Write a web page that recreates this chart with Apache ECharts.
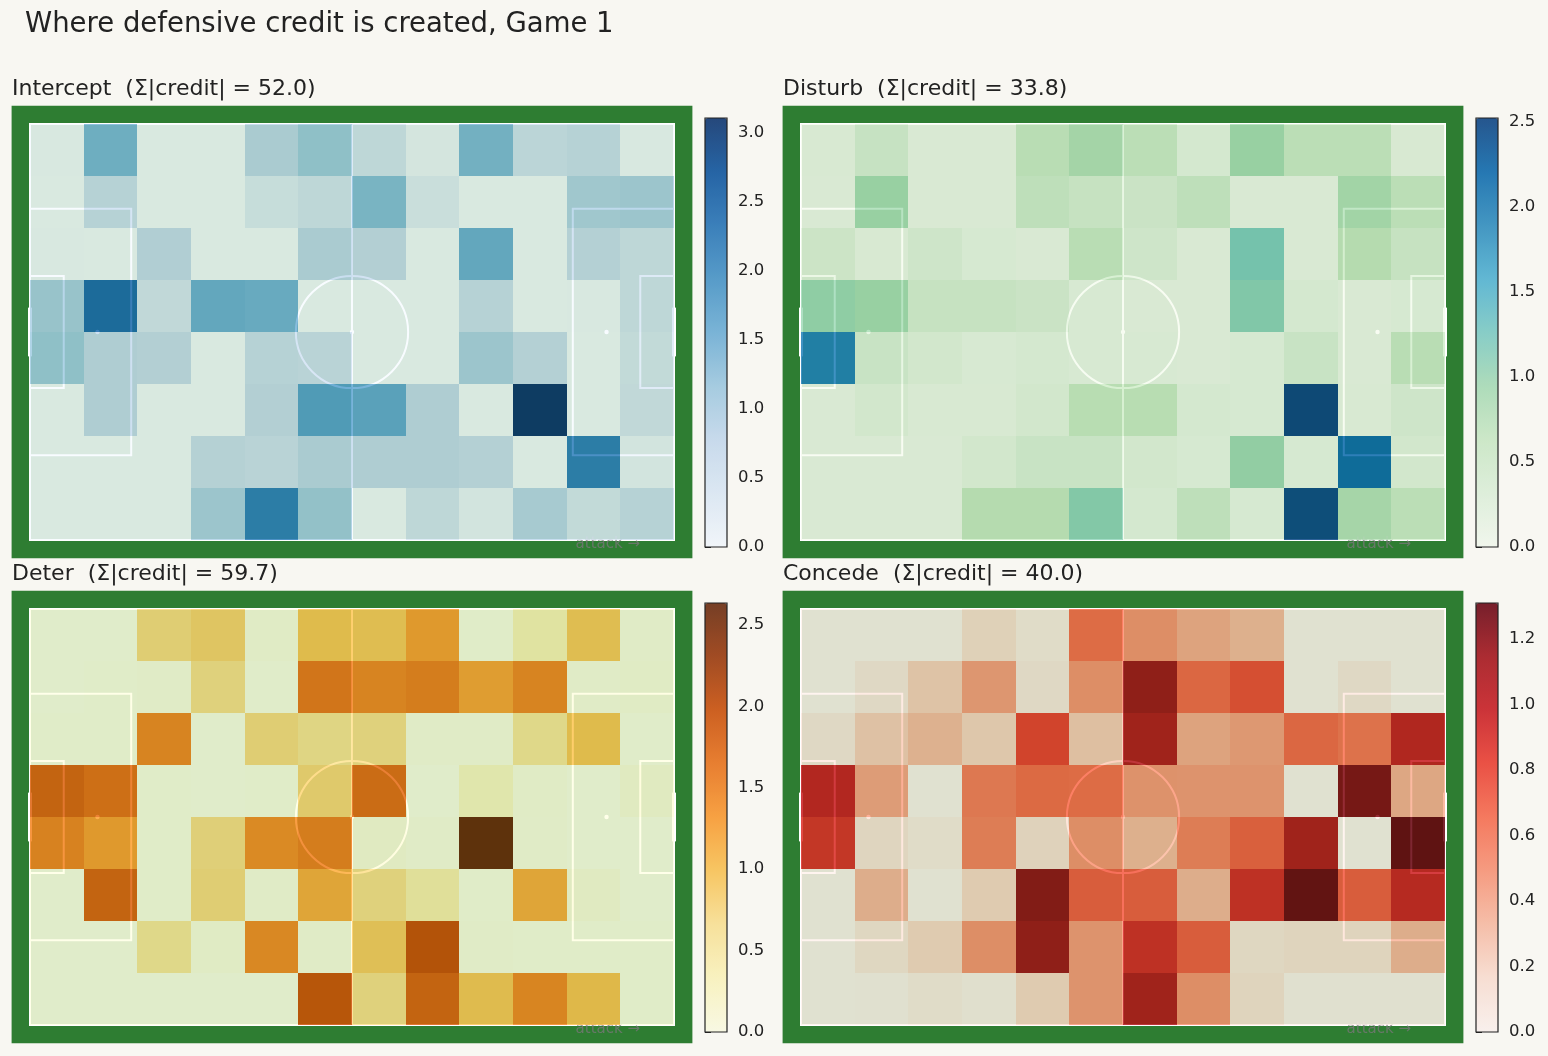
<!DOCTYPE html>
<html>
<head>
<meta charset="utf-8">
<title>Where defensive credit is created, Game 1</title>
<script src="https://cdn.jsdelivr.net/npm/echarts@6/dist/echarts.min.js"></script>
<style>
    html, body { margin: 0; padding: 0; background: #f8f7f2; }
    #chart { width: 1548px; height: 1056px; }
</style>
</head>
<body>
<div id="chart"></div>
<script>
// 12 x 8 zones, rows listed top to bottom as drawn
let xBins = 12;
let yBins = 8;

let interceptGrid = [
    [0.02, 1.45, 0, 0, 0.85, 1.15, 0.5, 0.1, 1.4, 0.55, 0.65, 0.02],
    [0, 0.65, 0, 0, 0.35, 0.5, 1.35, 0.3, 0, 0, 0.95, 1.0],
    [0.02, 0, 0.75, 0, 0, 0.85, 0.72, 0, 1.55, 0, 0.7, 0.5],
    [1.05, 2.45, 0.45, 1.55, 1.5, 0, 0, 0, 0.65, 0, 0.02, 0.5],
    [1.15, 0.78, 0.72, 0, 0.65, 0.6, 0, 0, 1.0, 0.7, 0, 0.42],
    [0, 0.78, 0, 0, 0.72, 1.75, 1.65, 0.78, 0, 3.11, 0, 0.45],
    [0, 0, 0, 0.67, 0.6, 0.85, 0.78, 0.78, 0.7, 0, 2.2, 0.12],
    [0, 0, 0, 1.0, 2.2, 1.1, 0, 0.5, 0.12, 0.87, 0.42, 0.65]
];

let disturbGrid = [
    [0.02, 0.3, 0, 0, 0.55, 0.8, 0.5, 0.08, 0.93, 0.5, 0.5, 0.02],
    [0, 0.93, 0, 0, 0.45, 0.32, 0.25, 0.45, 0, 0, 0.82, 0.5],
    [0.22, 0.02, 0.18, 0.05, 0, 0.55, 0.18, 0, 1.22, 0, 0.62, 0.32],
    [1.0, 0.93, 0.32, 0.32, 0.25, 0.03, 0, 0, 1.12, 0.08, 0, 0.05],
    [2.0, 0.27, 0.12, 0.03, 0.08, 0.03, 0.03, 0, 0.05, 0.27, 0, 0.55],
    [0, 0.12, 0.02, 0.02, 0.12, 0.57, 0.57, 0.08, 0.05, 2.52, 0.02, 0.18],
    [0, 0, 0, 0.12, 0.27, 0.27, 0.12, 0.05, 0.98, 0.05, 2.2, 0.12],
    [0, 0, 0, 0.62, 0.62, 1.1, 0.08, 0.45, 0.05, 2.48, 0.78, 0.5]
];

let deterGrid = [
    [0, 0, 0.75, 0.85, 0.05, 0.98, 0.95, 1.28, 0.02, 0.38, 0.95, 0.03],
    [0, 0.02, 0.03, 0.7, 0.01, 1.62, 1.48, 1.55, 1.25, 1.48, 0.03, 0.06],
    [0.02, 0.02, 1.48, 0, 0.75, 0.65, 0.7, 0.03, 0.03, 0.6, 0.98, 0.01],
    [1.8, 1.68, 0.02, 0, 0.02, 0.8, 1.72, 0, 0.28, 0.05, 0, 0.1],
    [1.5, 1.28, 0.02, 0.72, 1.42, 1.55, 0.08, 0.03, 2.635, 0.03, 0, 0],
    [0, 1.8, 0.02, 0.75, 0.04, 1.18, 0.7, 0.45, 0.02, 1.18, 0.08, 0],
    [0, 0, 0.6, 0.06, 1.45, 0.04, 0.92, 1.99, 0.04, 0.02, 0.02, 0.02],
    [0, 0, 0, 0, 0, 1.95, 0.7, 1.8, 0.97, 1.47, 1.0, 0.02]
];

let concedeGrid = [
    [0.02, 0.02, 0.02, 0.17, 0.07, 0.66, 0.5, 0.4, 0.34, 0.02, 0.02, 0.02],
    [0.02, 0.1, 0.24, 0.46, 0.1, 0.5, 1.16, 0.68, 0.78, 0.02, 0.1, 0.02],
    [0.1, 0.25, 0.33, 0.22, 0.83, 0.26, 1.08, 0.4, 0.45, 0.68, 0.63, 1.0],
    [0.99, 0.43, 0.02, 0.6, 0.67, 0.66, 0.48, 0.47, 0.47, 0.02, 1.24, 0.38],
    [0.9, 0.13, 0.07, 0.58, 0.16, 0.5, 0.34, 0.58, 0.71, 1.08, 0.02, 1.31],
    [0.02, 0.35, 0.02, 0.2, 1.2, 0.72, 0.72, 0.35, 0.93, 1.3, 0.72, 0.97],
    [0.02, 0.12, 0.2, 0.5, 1.16, 0.47, 0.93, 0.72, 0.12, 0.14, 0.14, 0.35],
    [0.02, 0.03, 0.07, 0.04, 0.2, 0.47, 1.08, 0.5, 0.14, 0.03, 0.03, 0.03]
];

let panelTitles = [
    'Intercept  (Σ|credit| = 52.0)',
    'Disturb  (Σ|credit| = 33.8)',
    'Deter  (Σ|credit| = 59.7)',
    'Concede  (Σ|credit| = 40.0)'
];

let interceptTicks = [0, 0.5, 1.0, 1.5, 2.0, 2.5, 3.0];
let disturbTicks = [0, 0.5, 1.0, 1.5, 2.0, 2.5];
let deterTicks = [0, 0.5, 1.0, 1.5, 2.0, 2.5];
let concedeTicks = [0, 0.2, 0.4, 0.6, 0.8, 1.0, 1.2];

// matplotlib colormaps (ColorBrewer stops)
let blues = ['#f7fbff', '#deebf7', '#c6dbef', '#9ecae1', '#6baed6', '#4292c6', '#2171b5', '#08519c', '#08306b'];
let gnbu = ['#f7fcf0', '#e0f3db', '#ccebc5', '#a8ddb5', '#7bccc4', '#4eb3d3', '#2b8cbe', '#0868ac', '#084081'];
let ylorbr = ['#ffffe5', '#fff7bc', '#fee391', '#fec44f', '#fe9929', '#ec7014', '#cc4c02', '#993404', '#662506'];
let reds = ['#fff5f0', '#fee0d2', '#fcbba1', '#fc9272', '#fb6a4a', '#ef3b2c', '#cb181d', '#a50f15', '#67000d'];

let pitchLength = 105;
let pitchWidth = 68;
let pitchGreen = '#2e7d32';
let lineColor = '#ffffff';

let panels = [
    { grid: interceptGrid, cmap: blues, ticks: interceptTicks, left: 30, top: 124, cbLeft: 705, cbTop: 118 },
    { grid: disturbGrid, cmap: gnbu, ticks: disturbTicks, left: 801, top: 124, cbLeft: 1476, cbTop: 118 },
    { grid: deterGrid, cmap: ylorbr, ticks: deterTicks, left: 30, top: 609, cbLeft: 705, cbTop: 603 },
    { grid: concedeGrid, cmap: reds, ticks: concedeTicks, left: 801, top: 609, cbLeft: 1476, cbTop: 603 }
];
let pitchW = 644, pitchH = 416;
let cbW = 22, cbH = 429;

function renderPitch(params, api) {
    let pt = function (x, y) { return api.coord([x, y]); };
    let line = function (x1, y1, x2, y2, w, cap) {
        let a = pt(x1, y1), b = pt(x2, y2);
        return {
            type: 'line',
            shape: { x1: a[0], y1: a[1], x2: b[0], y2: b[1] },
            style: { stroke: lineColor, lineWidth: w || 2, lineCap: cap || 'butt' }
        };
    };
    let box = function (x1, y1, x2, y2, fill) {
        let a = pt(x1, y2), b = pt(x2, y1);
        return {
            type: 'rect',
            shape: { x: a[0], y: a[1], width: b[0] - a[0], height: b[1] - a[1] },
            style: fill ? { fill: fill } : { fill: 'none', stroke: lineColor, lineWidth: 2 }
        };
    };
    let spot = function (x, y) {
        let c = pt(x, y);
        return { type: 'circle', shape: { cx: c[0], cy: c[1], r: 2.2 }, style: { fill: lineColor } };
    };
    let mid = pt(pitchLength / 2, pitchWidth / 2);
    let rad = api.size([9.15, 0])[0];
    let label = pt(94.2, -0.65);
    let boxTop = (pitchWidth - 40.32) / 2, sixTop = (pitchWidth - 18.32) / 2, goalTop = (pitchWidth - 7.32) / 2;
    return {
        type: 'group',
        children: [
            box(-3, -3, pitchLength + 3, pitchWidth + 3, pitchGreen),
            box(0, 0, pitchLength, pitchWidth),
            line(pitchLength / 2, 0, pitchLength / 2, pitchWidth),
            { type: 'circle', shape: { cx: mid[0], cy: mid[1], r: rad }, style: { fill: 'none', stroke: lineColor, lineWidth: 2 } },
            spot(pitchLength / 2, pitchWidth / 2),
            box(0, boxTop, 16.5, pitchWidth - boxTop),
            box(pitchLength - 16.5, boxTop, pitchLength, pitchWidth - boxTop),
            box(0, sixTop, 5.5, pitchWidth - sixTop),
            box(pitchLength - 5.5, sixTop, pitchLength, pitchWidth - sixTop),
            spot(11, pitchWidth / 2),
            spot(pitchLength - 11, pitchWidth / 2),
            line(0, goalTop, 0, pitchWidth - goalTop, 4, 'square'),
            line(pitchLength, goalTop, pitchLength, pitchWidth - goalTop, 4, 'square'),
            {
                type: 'text',
                style: {
                    text: 'attack →', x: label[0], y: label[1],
                    fill: '#777777', opacity: 0.8,
                    fontSize: 15, fontFamily: 'DejaVu Sans',
                    align: 'center', verticalAlign: 'middle'
                }
            }
        ]
    };
}

function renderCell(params, api) {
    let c = api.value(0), r = api.value(1);
    let dx = pitchLength / xBins, dy = pitchWidth / yBins;
    let p0 = api.coord([c * dx, pitchWidth - r * dy]);
    let p1 = api.coord([(c + 1) * dx, pitchWidth - (r + 1) * dy]);
    let x0 = Math.round(p0[0]), y0 = Math.round(p0[1]);
    let x1 = Math.round(p1[0]), y1 = Math.round(p1[1]);
    return {
        type: 'rect',
        shape: { x: x0, y: y0, width: x1 - x0, height: y1 - y0 },
        style: { fill: api.visual('color') }
    };
}

let grids = [], xAxes = [], yAxes = [], series = [], visualMaps = [], graphics = [];
let titles = [{
    text: 'Where defensive credit is created, Game 1',
    left: 25, top: 11, padding: 0,
    textStyle: { fontFamily: 'DejaVu Sans', fontSize: 27.5, fontWeight: 'normal', color: '#222' }
}];

panels.forEach(function (p, i) {
    let cells = [];
    let vmax = 0;
    p.grid.forEach(function (row, r) {
        row.forEach(function (v, c) {
            cells.push([c, r, v]);
            if (v > vmax) vmax = v;
        });
    });

    // pitch + zones
    let gi = grids.length;
    grids.push({ left: p.left, top: p.top, width: pitchW, height: pitchH });
    xAxes.push({ gridIndex: gi, type: 'value', min: 0, max: pitchLength, show: false });
    yAxes.push({ gridIndex: gi, type: 'value', min: 0, max: pitchWidth, show: false });
    series.push({
        type: 'custom', xAxisIndex: gi, yAxisIndex: gi, z: 1, silent: true,
        data: [[0, 0]], renderItem: renderPitch
    });
    series.push({
        type: 'custom', xAxisIndex: gi, yAxisIndex: gi, z: 2, silent: true,
        data: cells, encode: { x: 0, y: 1 }, renderItem: renderCell
    });
    visualMaps.push({
        type: 'continuous', seriesIndex: series.length - 1, dimension: 2,
        min: 0, max: vmax,
        left: p.cbLeft, top: p.cbTop, itemWidth: cbW, itemHeight: cbH,
        padding: 0, calculable: false, hoverLink: false,
        inRange: { color: p.cmap, colorAlpha: 0.85 }
    });

    // colorbar ticks
    let ci = grids.length;
    grids.push({ left: p.cbLeft, top: p.cbTop, width: cbW, height: cbH });
    xAxes.push({ gridIndex: ci, type: 'value', show: false });
    yAxes.push({
        gridIndex: ci, type: 'value', min: 0, max: vmax, position: 'right',
        axisLine: { show: false },
        splitLine: { show: false },
        axisTick: { show: true, customValues: p.ticks, length: 6, lineStyle: { color: '#222', width: 1 } },
        axisLabel: {
            customValues: p.ticks, margin: 11,
            formatter: function (v) { return v.toFixed(1); },
            fontFamily: 'DejaVu Sans', fontSize: 16.5, color: '#222'
        }
    });
    graphics.push({
        type: 'rect', z: 100, silent: true,
        shape: { x: p.cbLeft, y: p.cbTop, width: cbW, height: cbH },
        style: { fill: 'none', stroke: '#222', lineWidth: 1.2 }
    });

    titles.push({
        text: panelTitles[i],
        left: p.left - 18, top: p.top - 46, padding: 0,
        textStyle: { fontFamily: 'DejaVu Sans', fontSize: 22, fontWeight: 'normal', color: '#222' }
    });
});

let chart = echarts.init(document.getElementById('chart'));
chart.setOption({
    backgroundColor: '#f8f7f2',
    animation: false,
    title: titles,
    grid: grids,
    xAxis: xAxes,
    yAxis: yAxes,
    visualMap: visualMaps,
    graphic: graphics,
    series: series
});
</script>
</body>
</html>
